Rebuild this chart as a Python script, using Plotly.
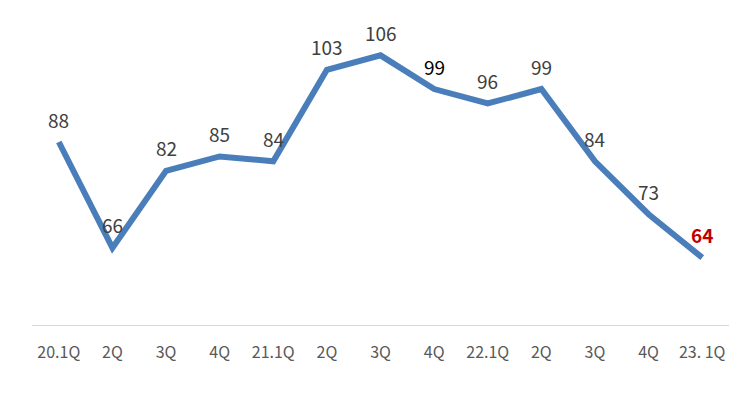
import plotly.graph_objects as go

categories = ["20.1Q", "2Q", "3Q", "4Q", "21.1Q", "2Q ", "3Q ", "4Q ", "22.1Q", "2Q  ", "3Q  ", "4Q  ", "23. 1Q"]
values = [88, 66, 82, 85, 84, 103, 106, 99, 96, 99, 84, 73, 64]
label_colors = ["#404040"] * 7 + ["#000000"] + ["#404040"] * 4 + ["#C00000"]
label_bold = [False] * 12 + [True]

x_idx = list(range(len(categories)))
FONT = "Noto Sans CJK KR, Open Sans, sans-serif"

fig = go.Figure()
fig.add_trace(go.Scatter(
    x=x_idx, y=values, mode="lines",
    line=dict(color="#4A7EBB", width=6),
    hoverinfo="skip",
))

for xi, v, c, b in zip(x_idx, values, label_colors, label_bold):
    txt = f"<b>{v}</b>" if b else str(v)
    fig.add_annotation(
        x=xi, y=v, text=txt, showarrow=False, yshift=23,
        font=dict(family=FONT, size=19, color=c),
    )

fig.update_layout(
    width=740, height=393,
    margin=dict(l=24, r=19, t=4, b=76),
    paper_bgcolor="white", plot_bgcolor="white",
    showlegend=False,
    font=dict(family=FONT),
)
fig.update_xaxes(
    tickmode="array", tickvals=x_idx, ticktext=[c.strip() for c in categories],
    range=[-0.5, len(categories) - 0.5],
    showgrid=False, zeroline=False,
    showline=True, linecolor="#D9D9D9", linewidth=1,
    ticks="outside", ticklen=13, tickcolor="rgba(0,0,0,0)",
    tickfont=dict(size=16, color="#595959"),
)
fig.update_yaxes(
    range=[50, 115], visible=False, showgrid=False, zeroline=False,
)

fig.write_html("out.html")
